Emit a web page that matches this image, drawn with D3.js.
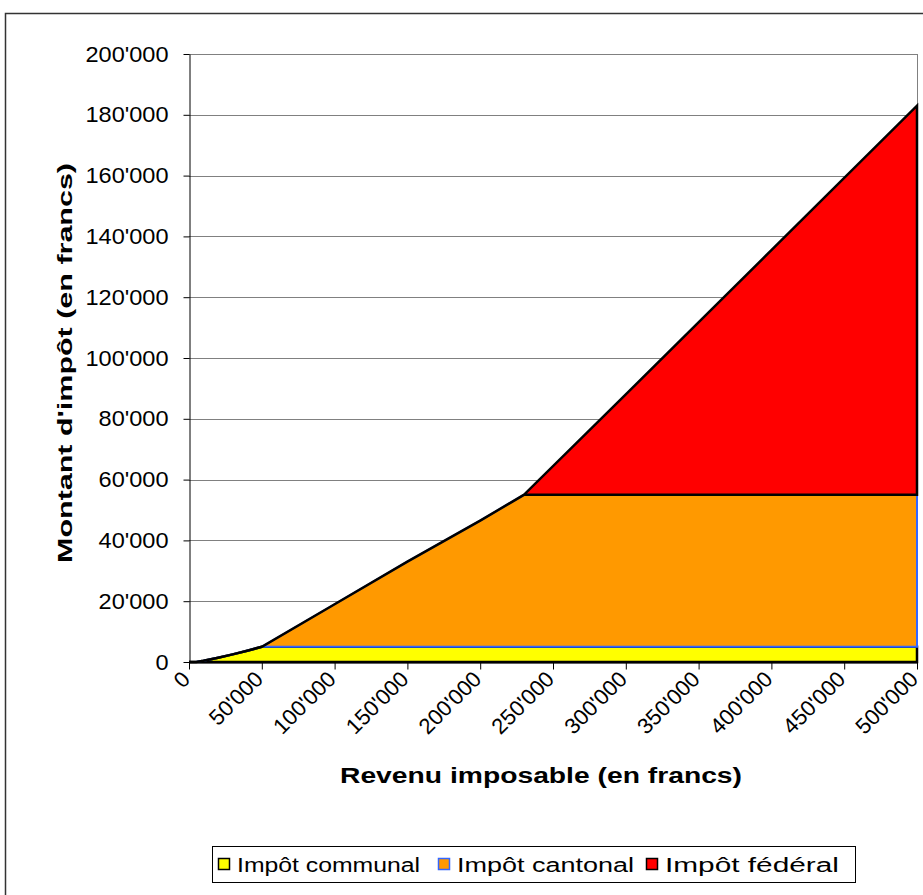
<!DOCTYPE html>
<html lang="fr">
<head>
<meta charset="utf-8">
<title>Impôts</title>
<style>
  body { margin: 0; background: #fff; }
  svg { display: block; font-family: Arial, "Liberation Sans", sans-serif; }
  .grid line { stroke: #808080; stroke-width: 1px; }
  .axis path, .axis line { stroke: #000; }
  .axis text { fill: #000; }
</style>
</head>
<body>
<script src="https://cdn.jsdelivr.net/npm/d3@7"></script>
<script>
// income (francs) and tax amounts per level
const revenu = [0, 5000, 10000, 20000, 30000, 40000, 50000, 100000, 150000, 200000, 230000, 300000, 400000, 500000];
const communal = [0, 0, 400, 1400, 2500, 3700, 5000, 5000, 5000, 5000, 5000, 5000, 5000, 5000];
const cantonal = [0, 0, 0, 0, 0, 0, 0, 14000, 28000, 41500, 50000, 50000, 50000, 50000];
const federal = [0, 0, 0, 0, 0, 0, 0, 0, 0, 0, 0, 33000, 80500, 128000];
const seriesNames = ["Impôt communal", "Impôt cantonal", "Impôt fédéral"];
const xTicks = [0, 50000, 100000, 150000, 200000, 250000, 300000, 350000, 400000, 450000, 500000];
const yTicks = [0, 20000, 40000, 60000, 80000, 100000, 120000, 140000, 160000, 180000, 200000];

const W = 923, H = 895;
const fill = ["#ffff00", "#ff9900", "#ff0000"];
const edge = ["#000000", "#3366ff", "#000000"];

const svg = d3.select("body").append("svg").attr("width", W).attr("height", H);

// chart frame
svg.append("rect").attr("x", 5.5).attr("y", 13.5).attr("width", 940).attr("height", 900)
  .attr("fill", "none").attr("stroke", "#333").attr("stroke-width", 1.5);

const x = d3.scaleLinear().domain([0, 500000]).range([189, 917]);
const y = d3.scaleLinear().domain([0, 200000]).range([662, 54]);

const loc = d3.formatLocale({ decimal: ".", thousands: "'", grouping: [3], currency: ["", ""] });
const fmt = loc.format(",");

// gridlines
svg.append("g").attr("class", "grid")
  .selectAll("line").data(yTicks.slice(1)).join("line")
  .attr("x1", x(0)).attr("x2", x(500000))
  .attr("y1", d => Math.round(y(d)) + 0.5).attr("y2", d => Math.round(y(d)) + 0.5);
svg.append("line").attr("x1", x(500000) + 0.5).attr("x2", x(500000) + 0.5)
  .attr("y1", y(200000)).attr("y2", y(0)).attr("stroke", "#808080");

// stacked areas
const rows = revenu.map((r, i) => ({ r, c0: communal[i], c1: cantonal[i], c2: federal[i] }));
const stack = d3.stack().keys(["c0", "c1", "c2"]);
const layers = stack(rows);
const area = d3.area().x(d => x(d.data.r)).y0(d => y(d[0])).y1(d => y(d[1]));

svg.append("g").selectAll("path").data(layers).join("path")
  .attr("d", d => area(d))
  .attr("fill", (d, i) => fill[i])
  .attr("stroke", (d, i) => edge[i])
  .attr("stroke-width", (d, i) => i === 1 ? 2 : 2.5)
  .attr("stroke-linejoin", "miter");

// y axis
const yAxis = svg.append("g").attr("class", "axis")
  .attr("transform", `translate(${x(0) + 0.5},0)`)
  .call(d3.axisLeft(y).tickValues(yTicks).tickFormat(fmt).tickSizeInner(6).tickSizeOuter(0).tickPadding(15));
yAxis.selectAll("text").style("font-size", "22px")
  .attr("textLength", function () { return this.getComputedTextLength() * 1.07; })
  .attr("lengthAdjust", "spacingAndGlyphs");

// x axis
const xAxis = svg.append("g").attr("class", "axis")
  .attr("transform", `translate(0,${y(0) + 0.5})`)
  .call(d3.axisBottom(x).tickValues(xTicks).tickFormat(fmt).tickSizeInner(7).tickSizeOuter(0));
xAxis.selectAll("text")
  .style("font-size", "22px")
  .attr("text-anchor", "end")
  .attr("x", 0).attr("y", 0).attr("dy", "0")
  .attr("transform", "translate(2,18) rotate(-45)");

// axis titles
svg.append("text")
  .attr("transform", `translate(72,363) rotate(-90)`)
  .attr("text-anchor", "middle")
  .style("font-size", "21px").style("font-weight", "bold")
  .attr("textLength", 400).attr("lengthAdjust", "spacingAndGlyphs")
  .text("Montant d'impôt (en francs)");
svg.append("text")
  .attr("x", 541).attr("y", 783)
  .attr("text-anchor", "middle")
  .style("font-size", "22px").style("font-weight", "bold")
  .attr("textLength", 402).attr("lengthAdjust", "spacingAndGlyphs")
  .text("Revenu imposable (en francs)");

// legend
const lg = svg.append("g");
lg.append("rect").attr("x", 212.5).attr("y", 846.5).attr("width", 643).attr("height", 36)
  .attr("fill", "#fff").attr("stroke", "#000");
const legX = [218, 438, 646];
const legLen = [183, 177, 174];
const items = lg.selectAll("g").data(seriesNames).join("g")
  .attr("transform", (d, i) => `translate(${legX[i]},864)`);
items.append("rect").attr("x", 0.5).attr("y", -5.5).attr("width", 11).attr("height", 11)
  .attr("fill", (d, i) => fill[i]).attr("stroke", (d, i) => edge[i]).attr("stroke-width", 1.5);
items.append("text").attr("x", 19).attr("y", 8)
  .style("font-size", "20px")
  .attr("textLength", (d, i) => legLen[i]).attr("lengthAdjust", "spacingAndGlyphs")
  .text(d => d);
</script>
</body>
</html>
